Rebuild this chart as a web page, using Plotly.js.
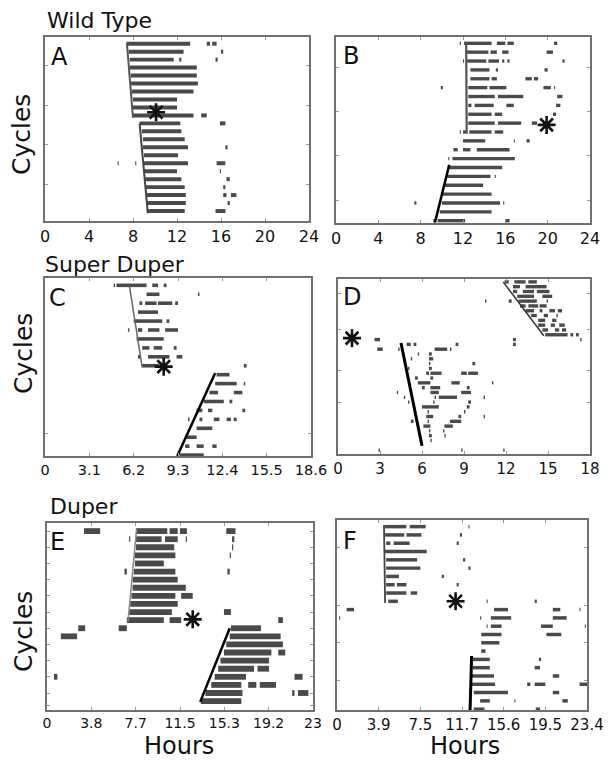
<!DOCTYPE html>
<html><head><meta charset="utf-8">
<script src="https://cdn.plot.ly/plotly-3.0.1.min.js"></script>
<style>html,body{margin:0;padding:0;background:#fff}</style>
</head><body><div id="chart" style="width:610px;height:763px"></div>
<script>
// ---------- DATA: activity blocks [cycle row, start hour, end hour] ----------
const segA = [
[0,7.4,13.2],[0,14.7,15.0],[0,15.2,15.6],
[1,7.6,12.6],[1,16.0,16.2],
[2,7.7,11.7],[2,12.2,12.4],[2,15.5,15.7],
[3,7.7,13.8],[4,7.8,13.8],[5,7.8,13.9],[6,7.9,13.5],[7,8.0,12.0],[8,8.0,12.0],
[9,8.0,13.5],[9,14.2,14.7],
[10,8.6,12.3],[10,15.9,16.4],
[11,8.8,12.4],[12,8.9,12.7],[13,8.9,13.0],[13,16.4,16.6],
[14,9.0,12.1],
[15,9.0,13.0],[15,15.6,16.4],[15,6.6,6.7],[15,8.2,8.3],
[16,9.0,12.0],[16,15.9,16.0],
[17,9.1,12.4],[17,16.5,16.8],
[18,9.1,12.7],[18,16.2,16.4],
[19,9.2,12.8],[19,16.2,16.5],[19,16.9,17.4],
[20,9.2,12.8],[20,16.6,16.8],
[21,9.3,12.7],[21,15.5,16.4]
];
const segB = [
[0,11.7,11.8],[0,12.1,14.7],[0,15.2,16.0],[0,16.2,16.8],[0,20.6,20.9],
[1,12.3,14.4],[1,14.6,15.2],[1,15.7,16.3],[1,19.9,20.5],
[2,12.0,12.1],[2,12.3,14.2],[2,14.4,15.4],[2,15.7,15.9],[2,16.2,16.4],[2,21.4,21.6],
[3,12.7,14.5],[3,15.1,15.3],[3,19.7,20.0],
[4,12.7,14.5],[4,14.7,15.2],[4,17.9,18.5],[4,18.7,19.1],
[5,12.5,14.3],[5,14.5,16.1],[5,19.6,20.3],[5,20.6,20.7],[5,9.9,10.1],
[6,12.5,15.0],[6,15.3,17.7],[6,20.9,21.4],
[7,12.5,12.8],[7,13.1,14.9],[7,16.1,16.8],[7,20.8,21.2],
[8,12.5,14.7],[8,15.0,15.7],[8,20.5,20.8],
[9,12.5,15.0],[9,15.3,17.5],[9,18.5,19.0],
[10,11.7,11.8],[10,12.0,12.3],[10,12.6,14.7],[10,15.0,15.8],
[11,12.0,14.1],[11,16.8,16.9],[11,18.0,18.3],
[12,11.1,11.5],[12,12.0,12.7],[12,13.3,16.4],
[13,10.6,10.7],[13,11.0,16.9],
[14,10.6,15.7],
[15,10.5,14.6],[15,15.0,15.1],
[16,10.3,13.9],
[17,10.1,14.7],
[18,10.0,15.5],[18,15.8,15.9],[18,7.4,7.6],
[19,9.8,14.7],
[20,9.2,9.4],[20,9.6,12.2],[20,16.0,16.4]
];
const segC = [
[0,4.8,4.9],[0,5.0,7.1],[0,7.5,7.9],[0,8.3,8.5],
[1,7.1,8.0],[1,10.7,10.8],
[2,6.6,6.8],[2,7.0,7.8],[2,7.9,8.9],[2,9.1,9.3],
[3,6.5,7.9],
[4,6.2,8.2],[4,8.5,8.7],
[5,5.8,5.9],[5,6.5,6.8],[5,7.2,8.0],[5,8.4,9.3],
[6,6.4,8.3],
[7,6.8,7.3],[7,7.6,8.2],[7,9.0,9.2],
[8,6.5,6.7],[8,7.2,8.7],[8,9.2,9.6],
[9,6.8,8.0],[9,13.9,14.1],
[10,12.0,12.9],
[11,11.9,13.4],[11,13.9,14.0],
[12,11.5,12.1],[12,13.2,13.8],
[13,11.1,12.5],[13,12.9,13.1],
[14,10.6,11.0],[14,11.4,11.7],[14,13.8,14.0],
[15,10.0,10.1],[15,10.8,11.0],[15,11.8,12.2],[15,12.7,13.0],[15,13.2,13.4],
[16,10.6,11.7],
[17,9.9,10.6],
[18,9.8,10.1],[18,10.6,11.1],[18,11.7,12.0],
[19,9.4,11.1]
];
const segD = [
[0,11.9,12.2],[0,12.6,13.4],[0,13.6,14.2],
[1,12.5,13.0],[1,13.4,14.9],
[2,12.5,12.8],[2,13.2,14.0],[2,14.2,15.1],
[3,12.8,14.0],[3,14.6,15.3],
[4,12.2,12.4],[4,12.9,14.2],[4,14.9,15.0],[4,10.5,10.6],
[5,13.0,13.4],[5,13.6,14.3],[5,14.4,14.9],
[6,13.4,14.0],[6,14.4,14.6],[6,15.1,15.5],[6,15.7,16.0],
[7,13.8,14.2],[7,14.7,15.0],[7,15.6,15.7],
[8,14.3,14.8],[8,15.3,15.6],
[9,14.3,14.8],[9,15.2,15.5],[9,15.8,16.2],
[10,14.6,15.0],[10,15.5,15.8],[10,16.0,16.3],
[11,14.8,16.4],[11,16.6,16.8],[11,17.0,17.2],
[12,2.6,3.0],[12,12.5,12.7],[12,17.3,17.4],
[13,4.9,5.2],[13,5.4,5.6],[13,8.4,8.6],[13,12.5,12.7],
[14,2.8,3.2],[14,4.3,4.4],[14,6.9,7.8],[14,8.0,8.1],
[15,5.7,5.8],[15,6.5,6.7],
[16,6.5,6.8],[16,5.2,5.3],
[17,6.5,6.6],[17,9.6,9.8],
[18,5.0,5.1],[18,6.5,6.7],
[19,6.3,6.5],[19,6.6,7.4],[19,8.8,9.2],[19,9.3,10.0],
[20,5.5,5.7],[20,6.6,6.8],
[21,5.7,6.6],[21,8.1,8.7],[21,11.0,11.1],
[22,6.0,6.2],[22,6.6,7.3],[22,9.2,9.4],
[23,6.6,7.2],[23,8.8,9.5],[23,4.2,4.3],
[24,4.7,4.8],[24,6.9,7.0],[24,7.2,8.5],[24,10.4,10.5],
[25,5.0,5.1],[25,6.8,6.9],[25,9.3,9.5],
[26,6.0,7.2],[26,9.2,9.4],
[27,6.4,6.5],[27,9.0,9.1],
[28,6.3,6.8],[28,8.6,8.8],[28,10.4,10.5],
[29,5.2,5.4],[29,6.4,6.5],[29,8.0,8.8],
[30,6.1,6.6],[30,7.6,8.2],
[31,7.5,7.6],[31,6.5,6.6],
[32,6.5,6.7],[32,7.6,7.7],
[33,6.6,6.7],
[35,2.9,3.0],[35,8.8,8.9],[35,11.8,11.9]
];
const segE = [
[0,3.2,4.6],[0,7.7,10.4],[0,10.6,11.3],[0,11.5,12.1],[0,15.5,16.3],
[1,7.1,7.2],[1,7.7,9.9],[1,10.2,11.3],[1,12.0,12.1],[1,16.0,16.2],
[2,7.7,11.0],[2,16.0,16.1],
[3,7.6,11.1],[3,15.8,15.9],
[4,7.6,10.1],
[5,6.7,6.9],[5,7.5,11.1],[5,15.6,15.8],
[6,7.4,11.3],
[7,7.4,12.0],
[8,7.3,11.1],[8,11.6,12.6],
[9,7.2,11.3],
[10,7.1,10.8],[10,15.3,15.9],
[11,6.9,10.1],[11,10.6,11.6],[11,20.0,20.4],
[12,2.7,3.3],[12,6.2,6.9],[12,15.9,18.5],
[13,1.2,2.6],[13,15.8,20.2],
[14,15.5,20.4],
[15,15.3,19.4],[15,20.0,20.6],
[16,15.0,19.2],
[17,14.8,17.9],[17,18.2,19.2],
[18,0.6,0.9],[18,14.5,17.2],[18,21.4,22.1],
[19,14.2,16.8],[19,17.4,18.1],[19,18.4,19.8],
[20,13.7,16.9],[20,21.2,21.4],[20,21.7,22.6],
[21,13.3,16.8]
];
const segF = [
[0,4.5,6.5],[0,6.8,8.3],[0,12.3,12.4],
[1,4.5,6.3],[1,6.5,7.9],[1,11.5,11.7],
[2,4.6,5.0],[2,5.3,6.8],[2,11.2,11.4],
[3,4.4,8.4],
[4,4.6,7.5],[4,11.8,12.0],
[5,4.6,7.8],[5,12.3,12.5],
[6,4.6,5.8],[6,9.8,10.0],
[7,4.6,5.4],[7,5.6,6.5],[7,11.2,11.4],
[8,4.6,6.5],[8,6.9,7.5],
[9,4.8,5.7],[9,14.0,14.1],[9,18.5,18.7],
[10,0.9,1.6],[10,14.7,16.0],[10,20.2,20.9],[10,22.7,22.8],
[11,0.2,0.3],[11,13.4,13.5],[11,14.4,16.3],[11,20.2,21.5],
[12,14.0,14.1],[12,14.4,15.4],[12,19.1,20.2],[12,23.2,23.3],
[13,13.5,15.4],[13,19.6,21.0],
[14,13.5,15.2],
[15,13.5,13.9],
[16,12.7,14.3],[16,18.9,19.1],
[17,12.7,14.3],[17,18.5,19.0],
[18,12.6,14.7],[18,20.2,20.8],
[19,12.6,14.8],[19,17.8,18.1],[19,18.5,19.5],[19,22.7,23.4],
[20,12.8,16.0],[20,20.2,20.8],
[21,13.4,14.3],[21,16.6,16.7],[21,21.1,21.6],
[22,12.8,13.8],[22,18.6,19.0]
];

// onset fit lines: [startHour, startRow, endHour, endRow]
const onsetA1 = [7.45, 0, 8.0, 9.3];
const onsetA2 = [8.6, 10, 9.35, 21.3];
const onsetB1 = [12.3, 0, 12.35, 10.2];
const onsetB2 = [10.7, 13.7, 9.35, 20.2];
const onsetC1 = [5.9, 0, 6.8, 9.2];
const onsetC2 = [11.9, 9.8, 9.25, 19.1];
const onsetD1 = [11.8, 0, 14.7, 11.2];
const onsetD2 = [4.5, 12.7, 6.0, 34.1];
const onsetE1 = [7.75, -0.3, 7.0, 11.2];
const onsetE2 = [15.8, 12, 13.25, 21.1];
const onsetF1 = [4.4, -0.2, 4.5, 9.2];
const onsetF2 = [12.6, 15.6, 12.45, 22.3];

// asterisk positions [hour, row]
const starA = [10.1, 8.6];
const starB = [19.9, 9.2];
const starC = [8.3, 9.1];
const starD = [1.0, 11.7];
const starE = [12.6, 10.9];
const starF = [11.1, 9.0];

// tick labels
const ticksA = [0,4,8,12,16,20,24];
const ticksB = [0,4,8,12,16,20,24];
const ticksC = [0,3.1,6.2,9.3,12.4,15.5,18.6];
const ticksD = [0,3,6,9,12,15,18];
const ticksEval = [0,23/6,46/6,11.5,92/6,115/6,23];
const ticksEtxt = ["0","3.8","7.7","11.5","15.3","19.2","23"];
const ticksFval = [0,3.9,7.8,11.7,15.6,19.5,23.4];
const ticksFtxt = ["0","3.9","7.5","11.7","15.6","19.5","23.4"];

// ---------- BUILD ----------
const W = 610, H = 763;
const panels = [
 {seg:segA, on:[onsetA1,onsetA2], star:starA, xr:[0,24], yr:[22.25,-0.84], tv:ticksA, tt:ticksA.map(String), px:[45,309], py:[37,221], bw:0.5, lc:['#555','#444'], lw:[2,2], fs:16, yt:[2.7,7.7,12.7,17.7]},
 {seg:segB, on:[onsetB1,onsetB2], star:starB, xr:[0,24], yr:[20.26,-0.71], tv:ticksB, tt:ticksB.map(String), px:[336,590], py:[37,223], bw:0.38, lc:['#555','#000'], lw:[2.2,2.5], fs:16, yt:[2.7,7.7,12.7,17.7]},
 {seg:segC, on:[onsetC1,onsetC2], star:starC, xr:[0,18.6], yr:[19.1,-0.82], tv:ticksC, tt:ticksC.map(String), px:[45,311], py:[278,456], bw:0.4, lc:['#666','#000'], lw:[1.5,2.5], fs:14.5, yt:[16.6]},
 {seg:segD, on:[onsetD1,onsetD2], star:starD, xr:[0,18], yr:[35.8,-0.6], tv:ticksD, tt:ticksD.map(String), px:[338,590], py:[279,454], bw:0.7, lc:['#333','#000'], lw:[1.5,3], fs:15, yt:[2.5,10,18.5,25]},
 {seg:segE, on:[onsetE1,onsetE2], star:starE, xr:[0,23], yr:[22.1,-1.0], tv:ticksEval, tt:ticksEtxt, px:[47,313], py:[523,710], bw:0.72, lc:['#888','#000'], lw:[1.5,2.5], fs:14, yt:[0,2,4,6,8,10,12,14,16,18,20,21.5]},
 {seg:segF, on:[onsetF1,onsetF2], star:starF, xr:[0,23.4], yr:[22.1,-0.8], tv:ticksFval, tt:ticksFtxt, px:[337,587], py:[520,710], bw:0.42, lc:['#444','#000'], lw:[1.8,3], fs:15, yt:[2.5,9.5,14,18.5]}
];

const traces = [];
const layout = {
  width: W, height: H, margin:{l:0,r:0,t:0,b:0},
  paper_bgcolor:'#fff', plot_bgcolor:'#fff', showlegend:false,
  barmode:'overlay', font:{family:'DejaVu Sans', color:'#111'},
  annotations:[]
};

panels.forEach((p,i)=>{
  const n = i===0 ? '' : String(i+1);
  const xa = 'x'+n, ya = 'y'+n;
  traces.push({
    type:'bar', orientation:'h', xaxis:xa, yaxis:ya,
    y:p.seg.map(s=>s[0]), base:p.seg.map(s=>s[1]), x:p.seg.map(s=>s[2]-s[1]),
    width:p.bw, marker:{color:'#4a4a4a', line:{width:0}}, hoverinfo:'skip'
  });
  p.on.forEach((o,k)=>{
    traces.push({type:'scatter', mode:'lines', xaxis:xa, yaxis:ya,
      x:[o[0],o[2]], y:[o[1],o[3]], line:{color:p.lc[k], width:p.lw[k]}, hoverinfo:'skip'});
  });
  traces.push({type:'scatter', mode:'markers', xaxis:xa, yaxis:ya,
    x:[p.star[0]], y:[p.star[1]],
    marker:{symbol:'asterisk-open', size:15, color:'#111', line:{color:'#111', width:2.6}}, hoverinfo:'skip'});
  layout['xaxis'+n] = {
    domain:[p.px[0]/W, p.px[1]/W], anchor:ya, range:p.xr,
    tickmode:'array', tickvals:p.tv, ticktext:p.tt,
    ticks:'inside', ticklen:3, tickcolor:'#999', showgrid:false, zeroline:false,
    showline:true, mirror:'ticks', linecolor:'#707070', linewidth:1.6,
    tickfont:{family:'DejaVu Sans', size:p.fs, color:'#111'}, ticklabelstandoff:0, fixedrange:true
  };
  layout['yaxis'+n] = {
    domain:[(H-p.py[1])/H, (H-p.py[0])/H], anchor:xa, range:p.yr,
    tickmode:'array', tickvals:p.yt, showticklabels:false,
    ticks:'inside', ticklen:3, tickcolor:'#999', showgrid:false, zeroline:false,
    showline:true, mirror:'ticks', linecolor:'#707070', linewidth:1.6, fixedrange:true
  };
});

function ann(text, x, y, size, opts){
  return Object.assign({text, xref:'paper', yref:'paper', x:x/W, y:1-y/H,
    showarrow:false, font:{family:'DejaVu Sans', size, color:'#111'}, xanchor:'left', yanchor:'middle'}, opts||{});
}
const A = layout.annotations;
A.push(ann('Wild Type', 45, 20, 22));
A.push(ann('Super Duper', 43, 264, 22));
A.push(ann('Duper', 48, 506, 22));
[['A',49,57],['B',341,56],['C',47,298],['D',341,297],['E',48,542],['F',341,541]].forEach(l=>A.push(ann(l[0], l[1], l[2], 24)));
[[21,135],[23,354],[23,632]].forEach(c=>A.push(ann('Cycles', c[0], c[1], 25, {textangle:-90, xanchor:'center'})));
[[179,746],[465,746]].forEach(c=>A.push(ann('Hours', c[0], c[1], 24, {xanchor:'center'})));

Plotly.newPlot('chart', traces, layout, {staticPlot:true, displayModeBar:false});
</script>
</body></html>
